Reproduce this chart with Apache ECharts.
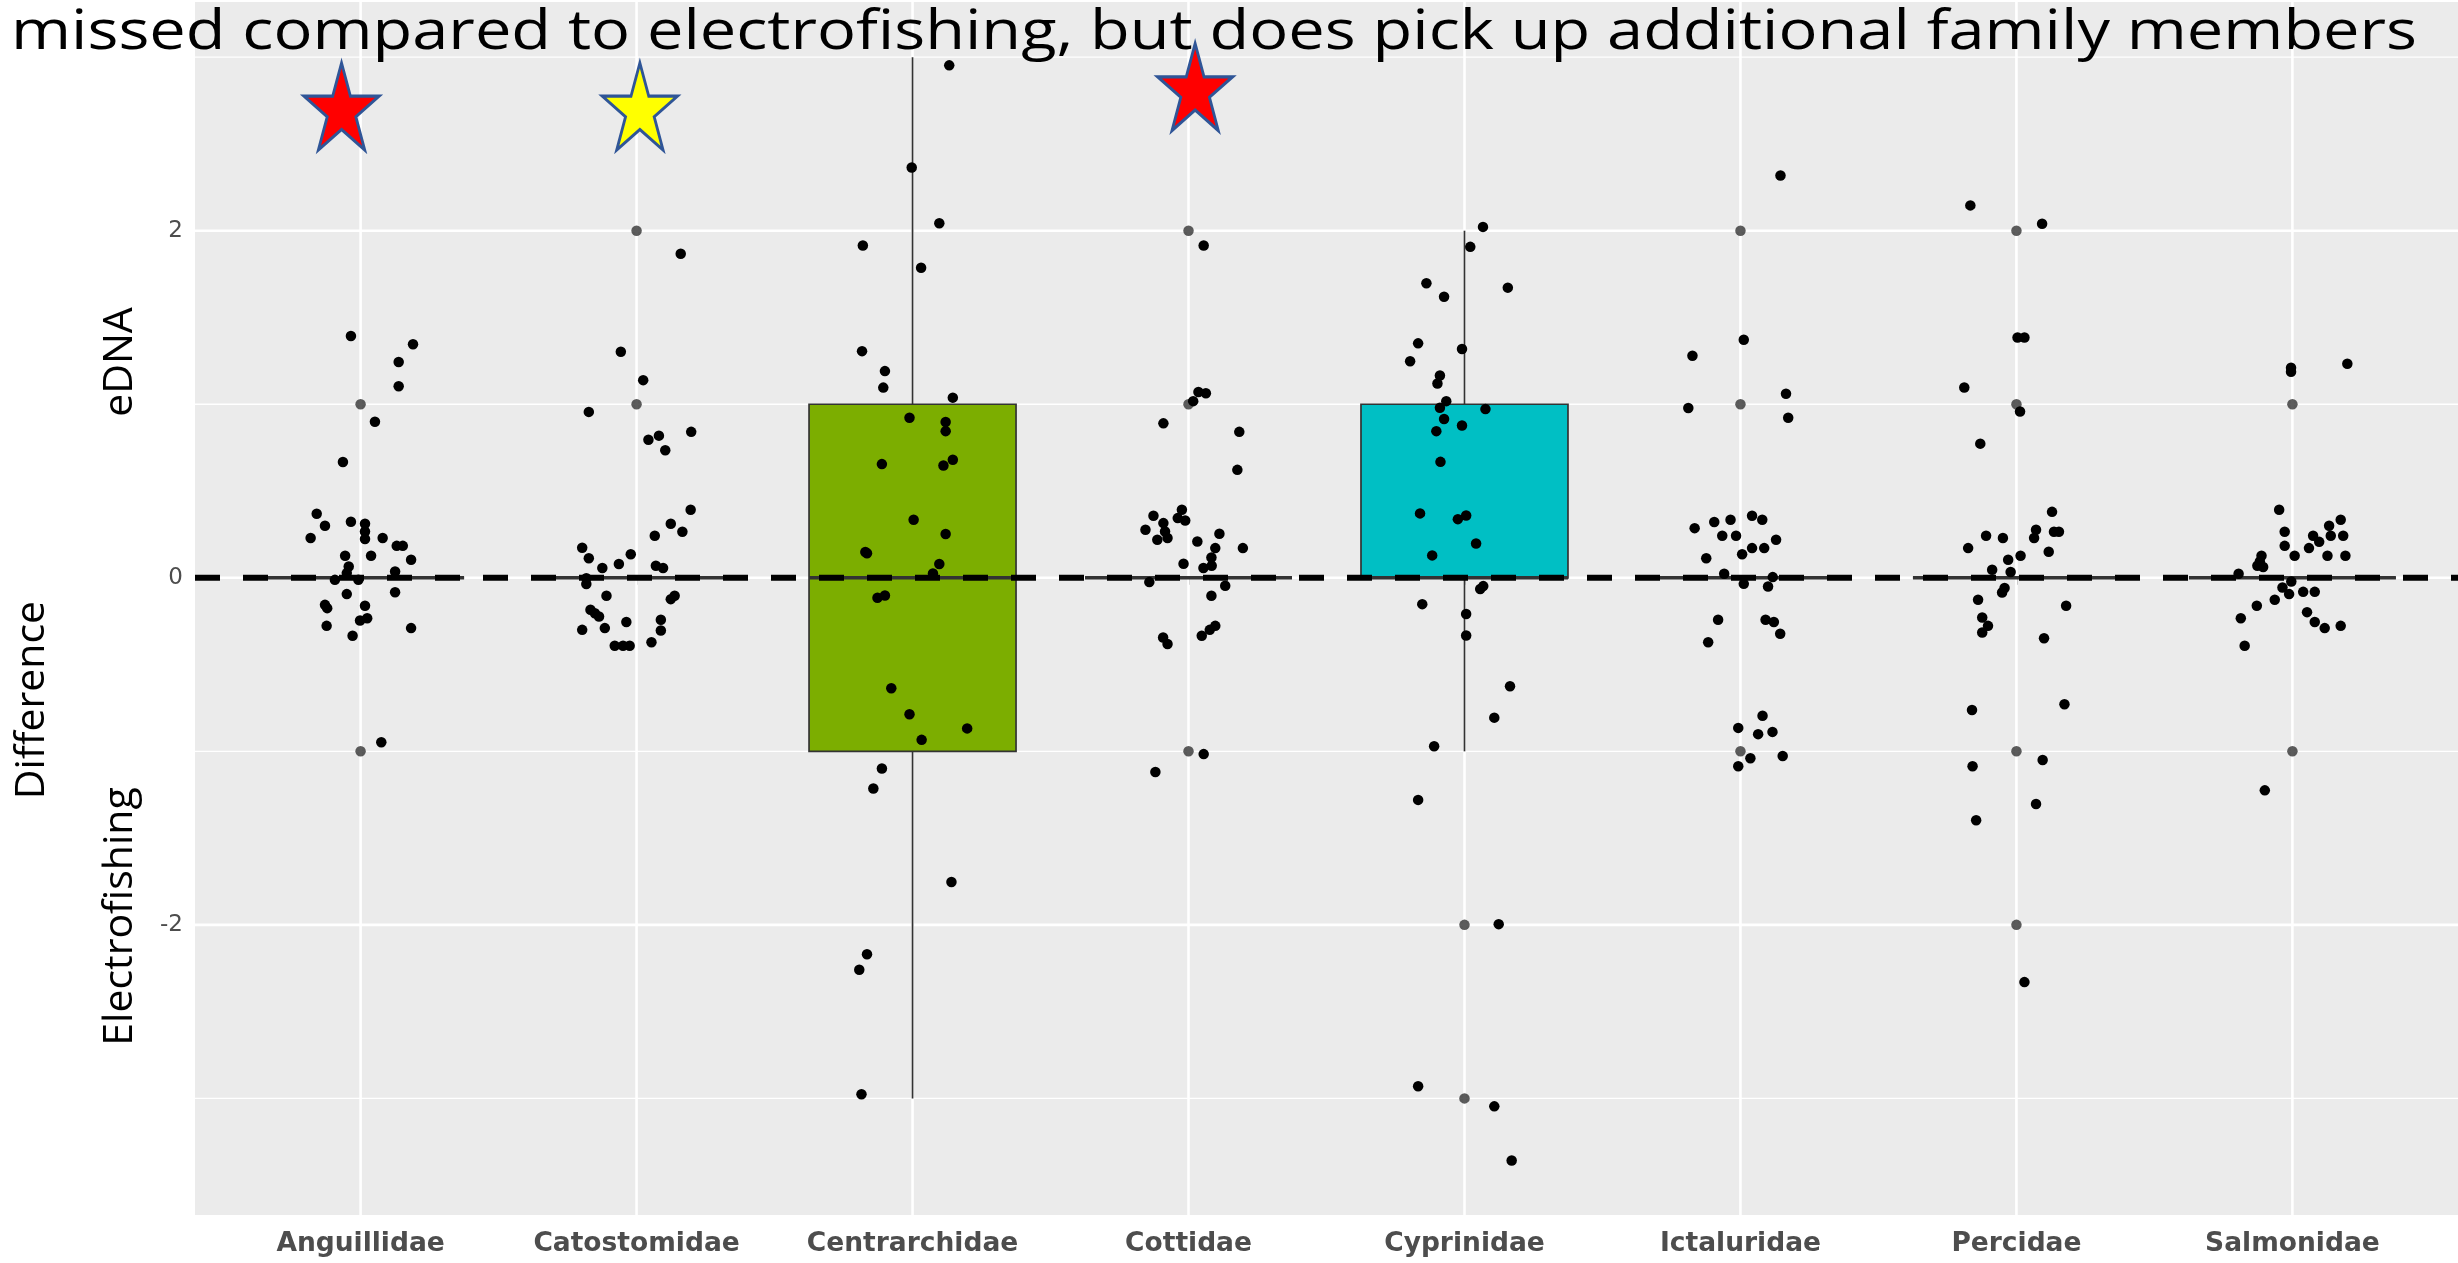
<!DOCTYPE html>
<html>
<head>
<meta charset="utf-8">
<script src="https://cdn.jsdelivr.net/npm/echarts@6/dist/echarts.min.js"></script>
<style>
html, body { margin: 0; padding: 0; background: #ffffff; }
#chart { width: 2458px; height: 1263px; }
</style>
</head>
<body>
<div id="chart"></div>
<script>
// ---------------- data ----------------
var titleText = 'missed compared to electrofishing, but does pick up additional family members';
var families = ['Anguillidae', 'Catostomidae', 'Centrarchidae', 'Cottidae', 'Cyprinidae', 'Ictaluridae', 'Percidae', 'Salmonidae'];

// jittered points: horizontal offset from the family centre (category units) and value
var anguillidaeDx = [-0.159,-0.129,-0.181,-0.035,0.016,0.016,0.016,0.08,0.131,0.153,0.183,-0.056,0.038,-0.043,-0.05,0.125,-0.093,-0.008,-0.05,0.125,-0.129,-0.121,0.016,-0.002,0.024,-0.123,0.183,-0.029,-0.035,0.19,0.138,0.138,0.052,-0.064,0.075];
var anguillidaeY  = [0.369,0.30,0.229,0.323,0.311,0.267,0.223,0.229,0.184,0.184,0.104,0.127,0.127,0.065,0.027,0.036,-0.012,-0.012,-0.094,-0.083,-0.156,-0.175,-0.161,-0.246,-0.233,-0.277,-0.29,-0.334,1.393,1.346,1.243,1.104,0.899,0.667,-0.948];

var catostomidaeDx = [0.196,0.124,0.166,0.066,-0.197,-0.173,-0.021,-0.064,-0.124,0.07,0.096,-0.182,-0.182,-0.109,0.124,0.138,-0.167,-0.151,-0.136,-0.197,-0.115,-0.037,0.088,0.088,0.054,-0.079,-0.049,-0.025,0.16,-0.057,0.024,-0.173,0.198,0.043,0.081,0.104];
var catostomidaeY  = [0.392,0.311,0.265,0.242,0.173,0.113,0.136,0.079,0.056,0.069,0.056,-0.036,-0.002,-0.104,-0.123,-0.104,-0.184,-0.204,-0.223,-0.30,-0.29,-0.255,-0.242,-0.304,-0.371,-0.392,-0.392,-0.392,1.867,1.303,1.139,0.956,0.841,0.795,0.819,0.735];

var centrarchidaeDx = [0.133,-0.003,0.097,-0.18,0.031,-0.183,-0.1,-0.106,0.146,-0.011,0.12,0.12,-0.111,0.112,0.146,0.004,0.12,-0.171,-0.165,0.097,0.074,-0.127,-0.1,-0.077,-0.011,0.033,0.198,-0.111,-0.142,0.141,-0.165,-0.193,-0.185];
var centrarchidaeY  = [2.953,2.364,2.043,1.915,1.787,1.306,1.191,1.096,1.038,0.922,0.898,0.845,0.655,0.647,0.68,0.334,0.252,0.149,0.141,0.079,0.025,-0.115,-0.102,-0.637,-0.786,-0.934,-0.868,-1.099,-1.214,-1.753,-2.169,-2.259,-2.976];

var cottidaeDx = [0.055,0.036,0.063,0.017,-0.091,0.184,0.177,0.055,-0.12,-0.127,-0.024,-0.039,-0.012,-0.091,-0.156,-0.085,-0.113,-0.076,0.032,0.112,0.197,0.097,0.083,-0.018,0.054,0.084,-0.142,0.133,0.083,-0.092,-0.076,0.048,0.077,0.097];
var cottidaeY  = [1.915,1.071,1.063,1.018,0.89,0.841,0.622,-1.016,-1.119,0.357,0.392,0.344,0.33,0.315,0.277,0.267,0.219,0.229,0.209,0.254,0.171,0.171,0.117,0.081,0.056,0.069,-0.025,-0.046,-0.104,-0.344,-0.382,-0.334,-0.30,-0.277];

var cyprinidaeDx = [0.067,0.021,-0.138,0.157,-0.074,-0.168,-0.009,-0.197,-0.089,-0.098,-0.066,-0.089,0.076,-0.074,-0.009,-0.102,-0.087,-0.161,-0.024,0.006,0.042,-0.117,0.068,0.057,-0.153,0.006,0.006,0.165,0.108,-0.11,-0.168,0.124,-0.168,0.108,0.171];
var cyprinidaeY  = [2.022,1.907,1.697,1.672,1.619,1.351,1.318,1.248,1.166,1.12,1.018,0.98,0.972,0.915,0.878,0.845,0.668,0.371,0.338,0.359,0.198,0.129,-0.048,-0.065,-0.152,-0.209,-0.333,-0.625,-0.806,-0.971,-1.28,-1.996,-2.93,-3.046,-3.358];

var ictaluridaeDx = [0.145,0.012,-0.174,-0.189,0.165,0.173,-0.166,-0.095,-0.036,0.042,0.079,-0.066,-0.016,0.129,0.042,0.086,0.006,-0.124,-0.059,0.117,0.012,0.1,-0.081,0.091,0.121,0.144,-0.117,0.08,-0.008,0.064,0.116,0.036,-0.008,0.153];
var ictaluridaeY  = [2.318,1.372,1.279,0.978,1.061,0.922,0.286,0.321,0.334,0.357,0.334,0.242,0.242,0.219,0.171,0.171,0.136,0.113,0.023,0.004,-0.035,-0.05,-0.242,-0.242,-0.255,-0.323,-0.371,-0.795,-0.865,-0.901,-0.888,-1.04,-1.086,-1.027];

var percidaeDx = [-0.167,0.093,0.004,0.029,-0.189,0.013,-0.131,0.129,0.071,0.064,0.136,0.154,-0.11,-0.049,-0.175,-0.03,0.015,0.117,-0.088,-0.021,-0.043,-0.052,-0.139,0.18,-0.124,-0.103,-0.124,0.1,0.174,-0.161,-0.159,0.095,0.071,-0.146,0.029];
var percidaeY  = [2.146,2.04,1.385,1.385,1.097,0.958,0.773,0.38,0.277,0.229,0.265,0.265,0.242,0.229,0.171,0.104,0.127,0.15,0.046,0.033,-0.059,-0.085,-0.127,-0.161,-0.229,-0.277,-0.315,-0.348,-0.729,-0.762,-1.086,-1.05,-1.304,-1.397,-2.33];

var salmonidaeDx = [-0.048,-0.028,-0.028,0.008,0.075,0.097,0.06,0.133,0.175,0.139,0.184,0.127,0.192,-0.112,-0.118,-0.127,-0.106,-0.195,-0.004,-0.036,-0.012,0.039,0.081,-0.064,-0.129,-0.187,0.053,0.081,0.117,0.175,-0.173,-0.005,-0.005,0.199,-0.1];
var salmonidaeY  = [0.392,0.265,0.184,0.127,0.242,0.207,0.171,0.30,0.334,0.242,0.242,0.127,0.127,0.127,0.094,0.069,0.062,0.023,-0.021,-0.056,-0.094,-0.081,-0.081,-0.127,-0.161,-0.233,-0.198,-0.255,-0.29,-0.277,-0.392,1.21,1.187,1.233,-1.225];

// boxplot statistics
var boxMin    = [0, 0, -3, 0, -1, 0, 0, 0];
var boxQ1     = [0, 0, -1, 0,  0, 0, 0, 0];
var boxMedian = [0, 0,  0, 0,  0, 0, 0, 0];
var boxQ3     = [0, 0,  1, 0,  1, 0, 0, 0];
var boxMax    = [0, 0,  3, 0,  2, 0, 0, 0];
var boxFill   = ['#F8766D', '#CD9600', '#7CAE00', '#00BE67', '#00BFC4', '#00A9FF', '#C77CFF', '#FF61CC'];
// boxplot outliers (drawn at family centre)
var outlierValues = [[1, -1], [2, 1], [], [2, 1, -1], [-2, -3], [2, 1, -1], [2, 1, -1, -2], [1, -1]];

// axis
var yTickValues = [-2, 0, 2];
var yGridMajor = [-2, 0, 2];
var yGridMinor = [-3, -1, 1, 3];
var referenceLineY = 0;

// star annotations
var starFamily = [0, 1, 3];
var starOffset = [-0.069, 0.012, 0.024];
var starY = [2.716, 2.716, 2.828];
var starFill = ['#FF0000', '#FFFF00', '#FF0000'];

// ---------------- build ----------------
var familyDx = [anguillidaeDx, catostomidaeDx, centrarchidaeDx, cottidaeDx, cyprinidaeDx, ictaluridaeDx, percidaeDx, salmonidaeDx];
var familyY = [anguillidaeY, catostomidaeY, centrarchidaeY, cottidaeY, cyprinidaeY, ictaluridaeY, percidaeY, salmonidaeY];
var pointData = [];
families.forEach(function (f, i) {
  var dx = familyDx[i], ys = familyY[i];
  for (var j = 0; j < Math.min(dx.length, ys.length); j++) pointData.push([i + dx[j], ys[j]]);
});
var outlierData = [];
outlierValues.forEach(function (vals, i) { vals.forEach(function (v) { outlierData.push([i, v]); }); });
var boxData = families.map(function (f, i) { return [i, boxMin[i], boxQ1[i], boxMedian[i], boxQ3[i], boxMax[i]]; });
var hGridData = yGridMajor.map(function (v) { return [0, v, 2.6]; }).concat(yGridMinor.map(function (v) { return [0, v, 1.3]; }));
var vGridData = families.map(function (f, i) { return [i, 0, 2.6]; });
var starData = starFamily.map(function (fi, k) {
  return { value: [fi + starOffset[k], starY[k]], itemStyle: { color: starFill[k] } };
});
var catIdx = families.map(function (f, i) { return i; });

var ctx = document.createElement('canvas').getContext('2d');
ctx.font = '54px "Open Sans"';
var titleW = ctx.measureText(titleText).width;
var titleScale = 2406 / titleW;

var STAR = 'path://M47.55,0 L58.8,34.55 L95.1,34.55 L65.7,55.9 L76.9,90.45 L47.55,69.1 L18.2,90.45 L29.4,55.9 L0,34.55 L36.3,34.55 Z';

var chart = echarts.init(document.getElementById('chart'), null, { renderer: 'canvas' });
chart.setOption({
  animation: false,
  backgroundColor: '#ffffff',
  grid: { left: 195, right: 0, top: 2, bottom: 48, show: true, backgroundColor: '#EBEBEB', borderWidth: 0 },
  xAxis: {
    type: 'value', min: -0.6, max: 7.6,
    axisLine: { show: false },
    splitLine: { show: false },
    axisTick: { show: true, customValues: catIdx, length: 7, lineStyle: { color: '#333333', width: 2 } },
    axisLabel: {
      customValues: catIdx, margin: 16,
      formatter: function (v) { return families[Math.round(v)] || ''; },
      fontFamily: 'DejaVu Sans', fontWeight: 'bold', fontSize: 26.5, color: '#4D4D4D'
    }
  },
  yAxis: {
    type: 'value', min: -3.672, max: 3.318,
    axisLine: { show: false },
    splitLine: { show: false },
    axisTick: { show: true, customValues: yTickValues, length: 7, lineStyle: { color: '#333333', width: 2 } },
    axisLabel: { customValues: yTickValues, margin: 12, fontFamily: 'DejaVu Sans', fontSize: 23, color: '#4D4D4D' }
  },
  series: [
    {
      type: 'custom', name: 'hgrid', z: 1, silent: true, data: hGridData, encode: { x: 0, y: 1 },
      renderItem: function (params, api) {
        var p = api.coord([0, api.value(1)]);
        var cs = params.coordSys;
        return { type: 'line', shape: { x1: cs.x, y1: p[1], x2: cs.x + cs.width, y2: p[1] }, style: { stroke: '#FFFFFF', lineWidth: api.value(2) } };
      }
    },
    {
      type: 'custom', name: 'vgrid', z: 1, silent: true, data: vGridData, encode: { x: 0, y: 1 },
      renderItem: function (params, api) {
        var p = api.coord([api.value(0), 0]);
        var cs = params.coordSys;
        return { type: 'line', shape: { x1: p[0], y1: cs.y, x2: p[0], y2: cs.y + cs.height }, style: { stroke: '#FFFFFF', lineWidth: api.value(2) } };
      }
    },
    {
      type: 'custom', name: 'box', z: 2, silent: true, data: boxData, encode: { x: 0, y: [1, 2, 3, 4, 5] },
      renderItem: function (params, api) {
        var x = api.value(0);
        var lo = api.coord([x, api.value(1)]);
        var q1 = api.coord([x, api.value(2)]);
        var md = api.coord([x, api.value(3)]);
        var q3 = api.coord([x, api.value(4)]);
        var hi = api.coord([x, api.value(5)]);
        var half = api.size([0.75, 0])[0] / 2;
        var st = { stroke: '#333333', lineWidth: 1.7 };
        return {
          type: 'group', children: [
            { type: 'line', shape: { x1: lo[0], y1: hi[1], x2: lo[0], y2: q3[1] }, style: st },
            { type: 'line', shape: { x1: lo[0], y1: q1[1], x2: lo[0], y2: lo[1] }, style: st },
            { type: 'rect', shape: { x: lo[0] - half, y: q3[1], width: 2 * half, height: q1[1] - q3[1] },
              style: { fill: boxFill[params.dataIndex], stroke: '#333333', lineWidth: 1.7 } },
            { type: 'line', shape: { x1: lo[0] - half, y1: md[1], x2: lo[0] + half, y2: md[1] }, style: { stroke: '#333333', lineWidth: 3.4 } }
          ]
        };
      }
    },
    {
      type: 'scatter', name: 'outliers', z: 3, silent: true, data: outlierData,
      symbol: 'circle', symbolSize: 10.5, itemStyle: { color: '#333333' }
    },
    {
      type: 'custom', name: 'zero', z: 4, silent: true, data: [[0, referenceLineY]], encode: { x: 0, y: 1 },
      renderItem: function (params, api) {
        var p = api.coord([0, api.value(1)]);
        var cs = params.coordSys;
        return { type: 'line', shape: { x1: cs.x, y1: p[1], x2: cs.x + cs.width, y2: p[1] },
          style: { stroke: '#000000', lineWidth: 6, lineDash: [25, 23] } };
      }
    },
    {
      type: 'scatter', name: 'points', z: 5, silent: true, data: pointData,
      symbol: 'circle', symbolSize: 10.5, itemStyle: { color: '#000000', opacity: 1 }
    },
    {
      type: 'scatter', name: 'stars', z: 6, silent: true, data: starData,
      symbol: STAR, symbolSize: [75, 87], symbolKeepAspect: false,
      itemStyle: { borderColor: '#2F5597', borderWidth: 3, opacity: 1 }
    }
  ],
  graphic: [
    { type: 'text', z: 100, x: 11, y: 34, scaleX: titleScale,
      style: { text: titleText, font: '54px "Open Sans"', fill: '#000000', align: 'left', verticalAlign: 'middle' } },
    { type: 'text', z: 100, x: 32.4, y: 700, rotation: Math.PI / 2,
      style: { text: 'Difference', font: '41px "Open Sans"', fill: '#000000', align: 'center', verticalAlign: 'middle' } },
    { type: 'text', z: 100, x: 120, y: 362, rotation: Math.PI / 2,
      style: { text: 'eDNA', font: '41px "Open Sans"', fill: '#000000', align: 'center', verticalAlign: 'middle' } },
    { type: 'text', z: 100, x: 120, y: 916.5, rotation: Math.PI / 2,
      style: { text: 'Electrofishing', font: '41px "Open Sans"', fill: '#000000', align: 'center', verticalAlign: 'middle' } }
  ]
});
</script>
</body>
</html>
